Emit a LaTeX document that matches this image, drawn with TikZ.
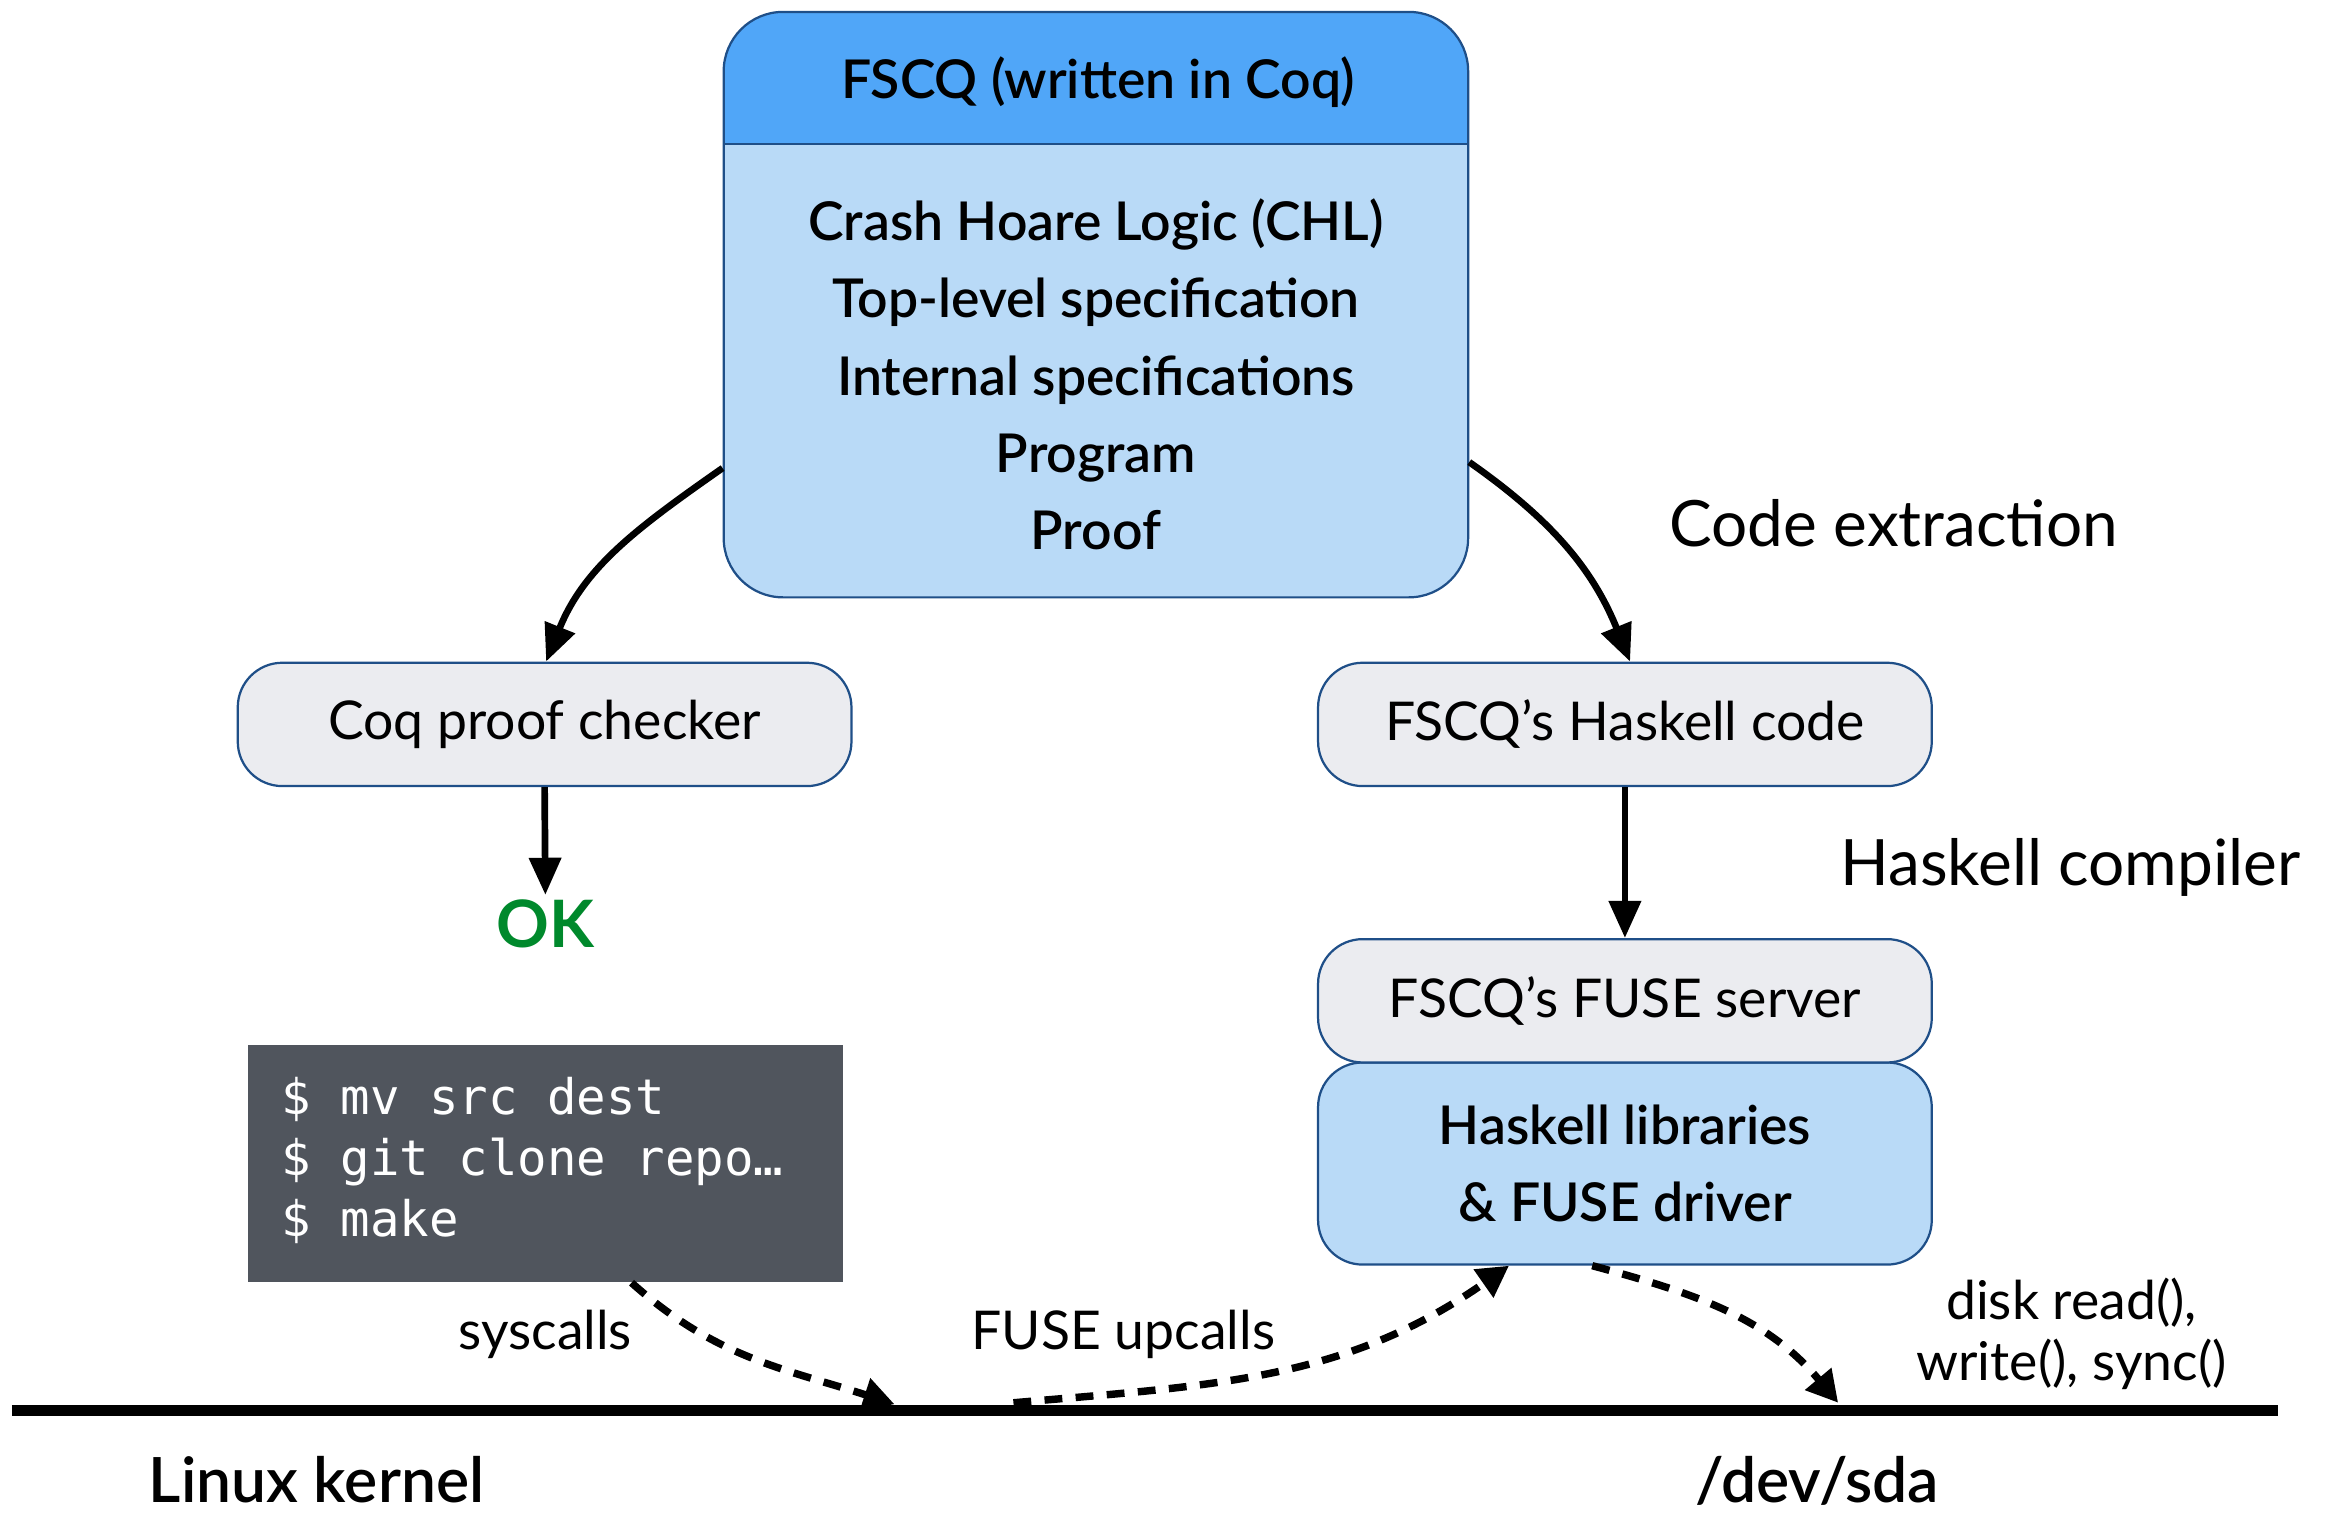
\documentclass[tikz,border=0pt]{standalone}
\usepackage{fontspec}
\setmainfont{Lato}
\setmonofont{DejaVu Sans Mono}
\newfontfamily\latosemi{Lato Semibold}
\usetikzlibrary{arrows.meta}
\definecolor{headblue}{HTML}{50A6F8}
\definecolor{bodyblue}{HTML}{B9DAF7}
\definecolor{bordblue}{HTML}{1F4F88}
\definecolor{boxgray}{HTML}{EBECF0}
\definecolor{termgray}{HTML}{50555D}
\definecolor{okgreen}{HTML}{00892C}
\tikzset{
  graybox/.style={draw=bordblue, line width=1.5pt, fill=boxgray, rounded corners=30pt,
    minimum width=413pt, minimum height=83pt, font=\fontsize{36}{43}\selectfont},
  bluebox/.style={draw=bordblue, line width=1.5pt, fill=bodyblue, rounded corners=30pt,
    minimum width=413pt},
  solidarrow/.style={line width=4.5pt, -{Triangle[length=25pt,width=21pt]}},
  dasharrow/.style={line width=5pt, dash pattern=on 12pt off 9pt, -{Triangle[length=21pt,width=22pt]}},
  lbl/.style={font=\fontsize{36}{41}\selectfont, align=center},
  biglbl/.style={font=\fontsize{43}{48}\selectfont, anchor=west},
  baselbl/.style={font=\fontsize{42}{46}\selectfont\latosemi, inner sep=0pt, anchor=base},
}
\begin{document}
\begin{tikzpicture}[x=1pt,y=-1pt]
\useasboundingbox (0,0) rectangle (1568,1020);
% top box
\node[draw=bordblue, line width=1.5pt, fill=bodyblue, rounded corners=40pt,
  minimum width=501pt, minimum height=394pt,
  path picture={\fill[headblue, sharp corners] (path picture bounding box.north west) rectangle ([yshift=-89pt]path picture bounding box.north east);
  \draw[bordblue, line width=1.5pt, sharp corners] ([yshift=-89pt]path picture bounding box.north west) -- ([yshift=-89pt]path picture bounding box.north east);}]
  (fscq) at (737.5,205) {};
\node[font=\fontsize{36}{43}\selectfont\latosemi] (fscqtitle) at (739,55) {FSCQ (written in Coq)};
\node[font=\fontsize{36}{52}\selectfont\latosemi, align=center] (fscqbody) at (737.5,252)
  {Crash Hoare Logic (CHL)\\Top-level specification\\Internal specifications\\Program\\Proof};
% gray boxes
\node[graybox] (coq) at (366.5,487.5) {Coq proof checker};
\node[graybox] (hcode) at (1093.5,487.5) {FSCQ’s Haskell code};
\node[bluebox, minimum height=136pt, font=\fontsize{36}{52}\selectfont\latosemi, align=center] (hlib) at (1093.5,783) {Haskell libraries\\\& FUSE driver};
\node[graybox] (fuse) at (1093.5,673.5) {FSCQ’s FUSE server};
\node[font=\fontsize{44}{48}\selectfont\bfseries, text=okgreen] (ok) at (367,622) {OK};
% terminal
\node[fill=termgray, minimum width=400pt, minimum height=160pt] (term) at (367,783) {};
\node[anchor=west, text=white, font=\fontsize{33}{41}\selectfont\ttfamily, align=left] (termtxt) at (186,781)
  {\$ mv src dest\\\$ git clone repo…\\\$ make};
% labels
\node[biglbl] (cext) at (1120,352) {Code extraction};
\node[biglbl] (hcomp) at (1235,584) {Haskell compiler};
\node[lbl] (sys) at (367,898) {syscalls};
\node[lbl] (upc) at (756,898) {FUSE upcalls};
\node[lbl] (disk) at (1394,897.5) {disk read(),\\write(), sync()};
\node[baselbl] (linux) at (213,1011) {Linux kernel};
\node[baselbl] (sda) at (1223,1011) {/dev/sda};
% kernel line
\coordinate (kl) at (8,949);
\coordinate (kr) at (1533,949);
\draw[line width=7.5pt] (kl) -- (kr);
% solid arrows
\draw[solidarrow] ([yshift=-110pt]fscq.west) to[out=-145,in=68] ([xshift=1pt]coq.north);
\draw[solidarrow] ([yshift=-106pt]fscq.east) to[out=-35,in=112] ([xshift=3.5pt]hcode.north);
\draw[solidarrow] (coq.south) -- (ok.north);
\draw[solidarrow] (hcode.south) -- (fuse.north);
% dashed arrows
\coordinate (sysend) at (602,945);
\coordinate (upstart) at (682,944);
\coordinate (diskend) at (1237,944);
\draw[dasharrow] ([xshift=58pt]term.south) to[out=-42,in=162] (sysend);
\draw[dasharrow] (upstart) to[out=5,in=-145] ([xshift=-78pt]hlib.south);
\draw[dasharrow] ([xshift=-22pt]hlib.south) to[out=-15,in=130] (diskend);
\end{tikzpicture}
\end{document}
